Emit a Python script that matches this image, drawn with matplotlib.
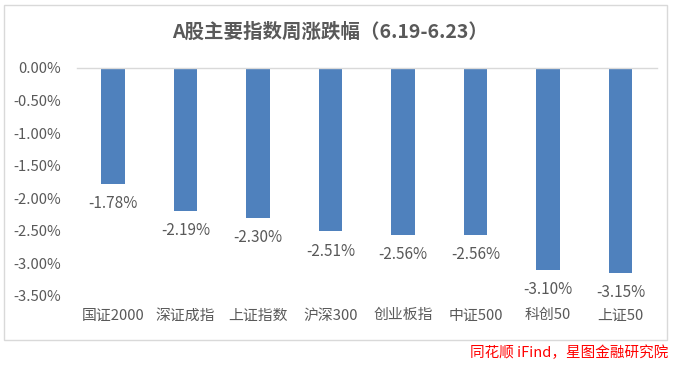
import matplotlib.pyplot as plt
from matplotlib.patches import Rectangle
from matplotlib.ticker import FuncFormatter

plt.rcParams['font.family'] = ['Noto Sans CJK SC', 'DejaVu Sans']

# 指数和周涨跌幅 (%)
指数 = ["国证2000", "深证成指", "上证指数", "沪深300", "创业板指", "中证500", "科创50", "上证50"]
涨跌幅 = [-1.78, -2.19, -2.30, -2.51, -2.56, -2.56, -3.10, -3.15]
y_ticks = [0.0, -0.5, -1.0, -1.5, -2.0, -2.5, -3.0, -3.5]

tekst = "#595959"

fig = plt.figure(figsize=(6.73, 3.69), dpi=100)
ax = fig.add_axes([0.114, 0.198, 0.862, 0.618])

x = range(len(指数))
ax.bar(x, 涨跌幅, width=0.32, color="#4F81BD", zorder=2)

# 数值标签放在柱子下方
for i, v in zip(x, 涨跌幅):
    ax.annotate(f"{v:.2f}%", (i, v), xytext=(0, -8), textcoords="offset points",
                ha="center", va="top", fontsize=11, color=tekst)

ax.set_xlim(-0.5, len(指数) - 0.5)
ax.set_ylim(-3.5, 0)
ax.set_yticks(y_ticks)
ax.yaxis.set_major_formatter(FuncFormatter(lambda v, p: f"{v:.2f}%"))
ax.set_xticks(list(x))
ax.set_xticklabels(指数)
ax.tick_params(axis="both", length=0, labelsize=10.7, labelcolor=tekst)
ax.tick_params(axis="x", pad=9)
ax.tick_params(axis="y", pad=11)

for s in ["left", "right", "bottom"]:
    ax.spines[s].set_visible(False)
ax.spines["top"].set_color("#D9D9D9")
ax.spines["top"].set_linewidth(1)

fig.text(0.49, 0.912, "A股主要指数周涨跌幅（6.19-6.23）", ha="center", va="center",
         fontsize=14, fontweight="bold", color=tekst)

# 图框
fig.patches.append(Rectangle((0.006, 0.078), 0.985, 0.908, transform=fig.transFigure,
                             fill=False, edgecolor="#D9D9D9", linewidth=1))

fig.text(0.993, 0.025, "同花顺 iFind，星图金融研究院", ha="right", va="bottom",
         fontsize=10.5, style="italic", color="#FF0000")

fig.savefig("out.png", dpi=100)
